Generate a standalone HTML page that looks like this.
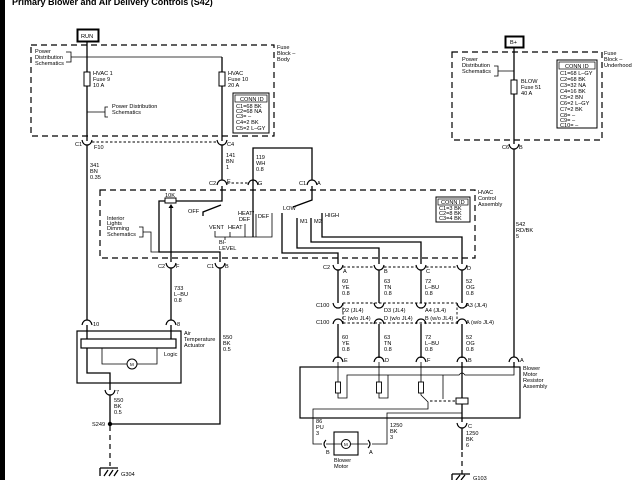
<!DOCTYPE html>
<html><head><meta charset="utf-8"><style>
html,body{margin:0;padding:0;background:#fff;}
svg{display:block;}
text{font-family:"Liberation Sans",Arial,sans-serif;font-size:5.6px;fill:#000;}
.w{stroke:#000;stroke-width:1.3;fill:none;}
.t{stroke:#000;stroke-width:0.8;fill:none;}
.d{stroke:#000;stroke-width:1.2;fill:none;stroke-dasharray:6,4;}
.ds{stroke:#000;stroke-width:0.9;fill:none;stroke-dasharray:2.5,2;}
</style></head><body>
<svg width="640" height="480" viewBox="0 0 640 480" xmlns="http://www.w3.org/2000/svg">
<defs>
<path id="cu" d="M-5,-2 Q-4,3 0,3 Q4,3 5,-2" stroke="#000" stroke-width="1.2" fill="none"/>
<path id="cn" d="M-5,2 Q-4,-3 0,-3 Q4,-3 5,2" stroke="#000" stroke-width="1.2" fill="none"/>
</defs>
<rect x="0" y="0" width="5" height="480" fill="#000"/>
<text x="12" y="5" style="font-size:9px;font-weight:bold">Primary Blower and Air Delivery Controls (S42)</text>

<!-- RUN -->
<rect x="77.5" y="29.5" width="21" height="12" fill="#fff" stroke="#000" stroke-width="2"/>
<text x="81" y="38">RUN</text>
<rect x="31" y="45" width="243" height="91" class="d"/>
<text x="277" y="49">Fuse</text><text x="277" y="55">Block –</text><text x="277" y="61">Body</text>
<text x="35" y="53">Power</text><text x="35" y="59">Distribution</text><text x="35" y="65">Schematics</text>
<path class="t" d="M66,52 H71 V62 H66 M71,57 H222"/>
<path class="w" d="M87,42 V141"/>
<path class="w" d="M222,57 V141"/>
<rect x="84" y="72" width="6" height="14" fill="#fff" stroke="#000" stroke-width="1"/>
<text x="93" y="75">HVAC 1</text><text x="93" y="81">Fuse 9</text><text x="93" y="87">10 A</text>
<rect x="219" y="72" width="6" height="14" fill="#fff" stroke="#000" stroke-width="1"/>
<text x="228" y="75">HVAC</text><text x="228" y="81">Fuse 10</text><text x="228" y="87">20 A</text>
<path class="t" d="M87,112 H105 M108,107 H105 V117 H108"/>
<text x="112" y="108">Power Distribution</text><text x="112" y="114">Schematics</text>
<rect x="233" y="93" width="36" height="40" fill="#fff" stroke="#000" stroke-width="1"/>
<rect x="235" y="95" width="32" height="7" fill="none" stroke="#000" stroke-width="0.7"/>
<text x="240" y="101">CONN ID</text>
<text x="236" y="108">C1=68 BK</text><text x="236" y="113">C2=68 NA</text><text x="236" y="118">C3= –</text><text x="236" y="124">C4=2 BK</text><text x="236" y="130">C5=2 L–GY</text>

<use href="#cu" x="87" y="142"/><use href="#cu" x="222" y="142"/>
<path class="ds" d="M92,142 H217"/>
<text x="75" y="146">C1</text><text x="94" y="149">F10</text><text x="227" y="146">C4</text>
<text x="90" y="167">341</text><text x="90" y="173">BN</text><text x="90" y="179">0.35</text>
<path class="w" d="M87,145 V320"/>
<text x="226" y="157">141</text><text x="226" y="163">BN</text><text x="226" y="169">1</text>
<path class="w" d="M222,145 V180"/>
<text x="256" y="159">119</text><text x="256" y="165">WH</text><text x="256" y="171">0.8</text>
<path class="w" d="M253,237 V148 H312 V180"/>
<use href="#cn" x="222" y="183"/><use href="#cn" x="253" y="183"/><use href="#cn" x="312" y="183"/>
<path class="ds" d="M227,183 H248"/>
<text x="209" y="185">C2</text><text x="227" y="183">E</text><text x="258" y="185">G</text>
<text x="299" y="185">C1</text><text x="317" y="185">A</text>

<!-- HVAC control -->
<rect x="100" y="190" width="375" height="68" class="d"/>
<text x="478" y="194">HVAC</text><text x="478" y="200">Control</text><text x="478" y="206">Assembly</text>
<rect x="436" y="197" width="34" height="25" fill="#fff" stroke="#000" stroke-width="1"/>
<rect x="438" y="199" width="30" height="6" fill="none" stroke="#000" stroke-width="0.7"/>
<text x="441" y="204">CONN ID</text>
<text x="439" y="210">C1=3 BK</text><text x="439" y="215">C2=8 BK</text><text x="439" y="220">C3=4 BK</text>
<rect x="165" y="198" width="11" height="5" fill="#fff" stroke="#000" stroke-width="1"/>
<text x="165" y="197">10K</text>
<path class="w" d="M222,186 V201 H176"/>
<path class="w" d="M165,201 H159 V252 H220 V262"/>
<path class="w" d="M171,262 V206"/>
<path d="M171,204 l-2.5,4 h5 z" fill="#000"/>
<path class="w" d="M221,205 L203,212 V216"/>
<text x="188" y="213">OFF</text>
<text x="107" y="220">Interior</text><text x="107" y="225">Lights</text><text x="107" y="230">Dimming</text><text x="107" y="236">Schematics</text>
<path class="t" d="M139,227 H143 V237 H139 M143,232 H151 V252 H159"/>
<text x="209" y="229">VENT</text><text x="228" y="229">HEAT</text>
<text x="238" y="215">HEAT/</text><text x="239" y="221">DEF</text><text x="258" y="218">DEF</text>
<path class="t" d="M215,231 V237 H272 V213 M230,232 V237 M245,224 V237 M256,214 V237 M225,237 V240"/>
<text x="219" y="244">BI-</text><text x="219" y="250">LEVEL</text>
<!-- blower switch -->
<path class="w" d="M312,186 V200 L293,207"/>
<text x="283" y="210">LOW</text>
<text x="300" y="223">M1</text><text x="314" y="223">M2</text><text x="325" y="217">HIGH</text>
<path class="w" d="M282,213 V253 H338 V264"/>
<path class="w" d="M297,218 V248 H379 V264"/>
<path class="w" d="M311,218 V242 H421 V264"/>
<path class="w" d="M322,213 V237 H462 V264"/>
<use href="#cu" x="171" y="265"/><use href="#cu" x="220" y="265"/>
<text x="158" y="268">C2</text><text x="176" y="268">F</text><text x="207" y="268">C1</text><text x="225" y="268">B</text>
<use href="#cu" x="338" y="267"/><use href="#cu" x="379" y="267"/><use href="#cu" x="421" y="267"/><use href="#cu" x="462" y="267"/>
<path class="ds" d="M343,267 H374 M384,267 H416 M426,267 H457"/>
<text x="323" y="269">C2</text><text x="343" y="273">A</text><text x="384" y="273">B</text><text x="426" y="273">C</text><text x="467" y="270">D</text>

<!-- Left bottom -->
<text x="174" y="290">733</text><text x="174" y="296">L–BU</text><text x="174" y="302">0.8</text>
<path class="w" d="M171,268 V320"/>
<path class="w" d="M220,268 V424 H110"/>
<text x="223" y="339">550</text><text x="223" y="345">BK</text><text x="223" y="351">0.5</text>
<use href="#cn" x="87" y="323"/><use href="#cn" x="171" y="323"/>
<text x="93" y="326">10</text><text x="177" y="326">8</text>
<rect x="77" y="331" width="104" height="52" fill="none" stroke="#000" stroke-width="1.2"/>
<rect x="81" y="339" width="95" height="9" fill="none" stroke="#000" stroke-width="1.2"/>
<path class="w" d="M87,325 V339 M171,325 V339"/>
<path class="t" d="M102,348 V364 H128 M137,364 H157 V348"/>
<circle cx="132" cy="364" r="5" fill="#fff" stroke="#000" stroke-width="1"/>
<text x="130" y="366" style="font-size:4.5px">M</text>
<text x="164" y="356">Logic</text>
<text x="184" y="335">Air</text><text x="184" y="341">Temperature</text><text x="184" y="347">Actuator</text>
<path class="w" d="M87,348 V373 H110 V390"/>
<use href="#cu" x="110" y="392"/>
<text x="116" y="394">7</text>
<path class="w" d="M110,395 V424"/>
<text x="114" y="402">550</text><text x="114" y="408">BK</text><text x="114" y="414">0.5</text>
<circle cx="110" cy="424" r="2.2" fill="#000"/>
<text x="92" y="426">S249</text>
<path class="d" d="M110,426 V466" style="stroke-dasharray:5,4"/>
<path class="w" d="M100,468 V476 M100,468 H118 M104,476 L108,470 M109,476 L113,470 M114,476 L118,470"/>
<text x="121" y="476">G304</text>

<!-- right top -->
<rect x="505.5" y="36.5" width="18" height="11" fill="#fff" stroke="#000" stroke-width="2"/>
<text x="510" y="44">B+</text>
<rect x="452" y="52" width="150" height="88" class="d"/>
<text x="604" y="55">Fuse</text><text x="604" y="61">Block –</text><text x="604" y="67">Underhood</text>
<text x="462" y="61">Power</text><text x="462" y="67">Distribution</text><text x="462" y="73">Schematics</text>
<path class="t" d="M494,66 H498 V76 H494 M498,71 H514"/>
<path class="w" d="M514,48 V144"/>
<rect x="511" y="80" width="6" height="14" fill="#fff" stroke="#000" stroke-width="1"/>
<text x="521" y="83">BLOW</text><text x="521" y="89">Fuse 51</text><text x="521" y="95">40 A</text>
<rect x="557" y="60" width="40" height="68" fill="#fff" stroke="#000" stroke-width="1"/>
<rect x="559" y="62" width="36" height="7" fill="none" stroke="#000" stroke-width="0.7"/>
<text x="565" y="68">CONN ID</text>
<text x="560" y="75">C1=68 L–GY</text><text x="560" y="81">C2=68 BK</text><text x="560" y="87">C3=32 NA</text><text x="560" y="93">C4=16 BK</text><text x="560" y="99">C5=2 BN</text><text x="560" y="105">C6=2 L–GY</text><text x="560" y="111">C7=2 BK</text><text x="560" y="117">C8= –</text><text x="560" y="122">C9= –</text><text x="560" y="127">C10= –</text>
<use href="#cu" x="514" y="146"/>
<text x="502" y="149">C6</text><text x="519" y="149">B</text>
<path class="w" d="M514,149 V357"/>
<text x="516" y="226">542</text><text x="516" y="232">RD/BK</text><text x="516" y="238">5</text>

<!-- C100 -->
<text x="342" y="283">60</text><text x="342" y="289">YE</text><text x="342" y="295">0.8</text>
<text x="384" y="283">63</text><text x="384" y="289">TN</text><text x="384" y="295">0.8</text>
<text x="425" y="283">72</text><text x="425" y="289">L–BU</text><text x="425" y="295">0.8</text>
<text x="466" y="283">52</text><text x="466" y="289">OG</text><text x="466" y="295">0.8</text>
<path class="w" d="M338,270 V303 M379,270 V303 M421,270 V303 M462,270 V303"/>
<use href="#cu" x="338" y="305"/><use href="#cu" x="379" y="305"/><use href="#cu" x="421" y="305"/><use href="#cu" x="462" y="305"/>
<use href="#cn" x="338" y="322"/><use href="#cn" x="379" y="322"/><use href="#cn" x="421" y="322"/><use href="#cn" x="462" y="322"/>
<path class="ds" d="M343,303 H457 M343,323 H457 M343,303 V323 M457,303 V323"/>
<text x="316" y="307">C100</text><text x="316" y="324">C100</text>
<text x="342" y="312">D2 (JL4)</text><text x="342" y="320">C (w/o JL4)</text>
<text x="384" y="312">D3 (JL4)</text><text x="384" y="320">D (w/o JL4)</text>
<text x="425" y="312">A4 (JL4)</text><text x="425" y="320">B (w/o JL4)</text>
<text x="466" y="307">A3 (JL4)</text><text x="466" y="324">A (w/o JL4)</text>
<path class="w" d="M338,324 V358 M379,324 V358 M421,324 V358 M462,324 V358"/>
<text x="342" y="339">60</text><text x="342" y="345">YE</text><text x="342" y="351">0.8</text>
<text x="384" y="339">63</text><text x="384" y="345">TN</text><text x="384" y="351">0.8</text>
<text x="425" y="339">72</text><text x="425" y="345">L–BU</text><text x="425" y="351">0.8</text>
<text x="466" y="339">52</text><text x="466" y="345">OG</text><text x="466" y="351">0.8</text>
<use href="#cn" x="338" y="360"/><use href="#cn" x="379" y="360"/><use href="#cn" x="421" y="360"/><use href="#cn" x="462" y="360"/><use href="#cn" x="514" y="360"/>
<text x="344" y="362">E</text><text x="385" y="362">D</text><text x="427" y="362">F</text><text x="468" y="362">B</text><text x="520" y="362">A</text>

<!-- resistor assembly -->
<rect x="300" y="367" width="220" height="51" fill="none" stroke="#000" stroke-width="1.2"/>
<text x="523" y="370">Blower</text><text x="523" y="376">Motor</text><text x="523" y="382">Resistor</text><text x="523" y="388">Assembly</text>
<path class="w" d="M514,362 V367"/>
<path class="t" d="M338,362 V398 H347 V375 H459 Q462,371 465,375 H514 V367"/>
<path class="t" d="M379,362 V398 H388 V375"/>
<path class="t" d="M421,362 V395 L428,402 V409 H313 V444 H322"/>
<path class="t" d="M443,375 V399"/>
<path class="ds" d="M430,401 H456"/>
<rect x="335.5" y="382" width="5" height="11" fill="#fff" stroke="#000" stroke-width="0.9"/>
<rect x="376.5" y="382" width="5" height="11" fill="#fff" stroke="#000" stroke-width="0.9"/>
<rect x="418.5" y="382" width="5" height="11" fill="#fff" stroke="#000" stroke-width="0.9"/>
<path class="w" d="M462,362 V422"/>
<rect x="456" y="398" width="12" height="6" fill="#fff" stroke="#000" stroke-width="1"/>
<path class="t" d="M462,413 H387 V444 H372"/>
<text x="316" y="423">86</text><text x="316" y="429">PU</text><text x="316" y="435">3</text>
<text x="390" y="427">1250</text><text x="390" y="433">BK</text><text x="390" y="439">3</text>
<path d="M326,440 Q322,444 326,448" stroke="#000" stroke-width="1.1" fill="none"/>
<path d="M368,440 Q372,444 368,448" stroke="#000" stroke-width="1.1" fill="none"/>
<text x="326" y="454">B</text><text x="369" y="454">A</text>
<rect x="334" y="432" width="24" height="23" fill="#fff" stroke="#000" stroke-width="1.1"/>
<path class="t" d="M326,444 H341 M351,444 H368"/>
<circle cx="346" cy="444" r="4.5" fill="#fff" stroke="#000" stroke-width="1"/>
<text x="344" y="446" style="font-size:4.5px">M</text>
<text x="334" y="462">Blower</text><text x="334" y="468">Motor</text>
<use href="#cu" x="462" y="425"/><text x="468" y="428">C</text>
<text x="466" y="435">1250</text><text x="466" y="441">BK</text><text x="466" y="447">6</text>
<path class="w" d="M462,428 V450"/>
<path class="d" d="M462,452 V474" style="stroke-dasharray:5,4"/>
<path class="w" d="M452,474 V480 M452,474 H470 M456,480 L460,475 M461,480 L465,475"/>
<text x="473" y="480">G103</text>
</svg>
</body></html>
